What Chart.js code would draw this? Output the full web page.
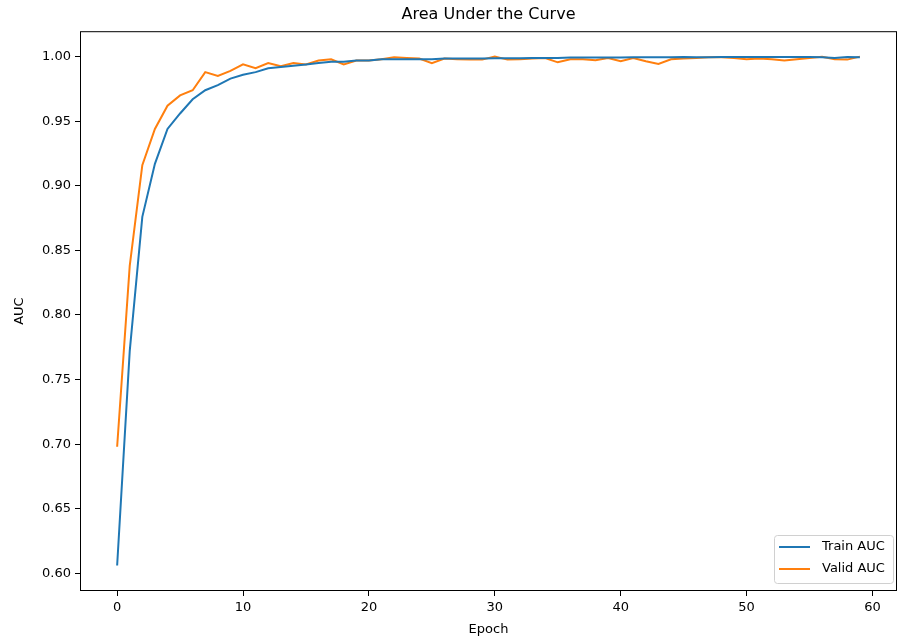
<!DOCTYPE html>
<html>
<head>
<meta charset="utf-8">
<script src="https://cdn.jsdelivr.net/npm/chart.js@4/dist/chart.umd.min.js"></script>
<style>
  html, body { margin: 0; padding: 0; background: #fff; }
  #wrap { width: 899px; height: 641px; }
</style>
</head>
<body>
<div id="wrap"><canvas id="myChart" width="899" height="641"></canvas></div>
<script>
const epochs = [0, 1, 2, 3, 4, 5, 6, 7, 8, 9, 10, 11, 12, 13, 14, 15, 16, 17, 18, 19,
  20, 21, 22, 23, 24, 25, 26, 27, 28, 29, 30, 31, 32, 33, 34, 35, 36, 37, 38, 39,
  40, 41, 42, 43, 44, 45, 46, 47, 48, 49, 50, 51, 52, 53, 54, 55, 56, 57, 58, 59];

const trainAuc = [0.606, 0.772, 0.876, 0.917, 0.944, 0.956, 0.967, 0.974, 0.978, 0.983,
  0.986, 0.988, 0.991, 0.992, 0.993, 0.994, 0.995, 0.996, 0.996, 0.997,
  0.997, 0.998, 0.998, 0.998, 0.998, 0.998, 0.9985, 0.9985, 0.9985, 0.9985,
  0.9988, 0.9988, 0.9988, 0.999, 0.999, 0.999, 0.9993, 0.9993, 0.9993, 0.9993,
  0.9993, 0.9995, 0.9995, 0.9995, 0.9995, 0.9998, 0.9996, 0.9996, 0.9998, 0.9998,
  0.9998, 0.9997, 0.9997, 0.9997, 0.9998, 0.9998, 0.9995, 0.999, 0.9998, 0.9995];

const validAuc = [0.698, 0.838, 0.916, 0.944, 0.962, 0.970, 0.974, 0.988, 0.985, 0.989,
  0.994, 0.991, 0.995, 0.9925, 0.995, 0.994, 0.997, 0.998, 0.994, 0.997,
  0.997, 0.998, 0.9995, 0.999, 0.9985, 0.995, 0.9985, 0.998, 0.9977, 0.9977,
  1.000, 0.9977, 0.998, 0.9985, 0.999, 0.9956, 0.998, 0.998, 0.9972, 0.999,
  0.9964, 0.999, 0.9964, 0.9943, 0.998, 0.9985, 0.999, 0.9995, 0.9995, 0.999,
  0.998, 0.9985, 0.998, 0.997, 0.998, 0.999, 1.000, 0.998, 0.9977, 1.000];

const xTicks = [0, 10, 20, 30, 40, 50, 60];
const yTicks = [0.60, 0.65, 0.70, 0.75, 0.80, 0.85, 0.90, 0.95, 1.00];

const FONT = 'DejaVu Sans';

function toPoints(values) {
  return epochs.map((e, i) => ({ x: e, y: values[i] }));
}

// box around the plot area plus a matplotlib-style legend in the lower right
const frameAndLegend = {
  id: 'frameAndLegend',
  afterDraw(chart) {
    const { ctx, chartArea: a } = chart;
    ctx.save();
    ctx.strokeStyle = '#000';
    ctx.lineWidth = 1;
    ctx.strokeRect(a.left + 0.5, a.top + 0.5, a.right - a.left - 1, a.bottom - a.top - 1);

    const w = 119, h = 48;
    const x = a.right - 4 - w, y = a.bottom - 8 - h;
    ctx.fillStyle = 'rgba(255,255,255,0.8)';
    ctx.strokeStyle = '#d0d0d0';
    ctx.beginPath();
    ctx.roundRect(x + 0.5, y + 0.5, w, h, 3);
    ctx.fill();
    ctx.stroke();

    ctx.font = '13px ' + FONT;
    ctx.textBaseline = 'middle';
    ctx.textAlign = 'left';
    chart.data.datasets.forEach((ds, i) => {
      const ly = y + 12 + i * 22;
      ctx.strokeStyle = ds.borderColor;
      ctx.lineWidth = 2;
      ctx.beginPath();
      ctx.moveTo(x + 5, ly);
      ctx.lineTo(x + 36, ly);
      ctx.stroke();
      ctx.fillStyle = '#000';
      ctx.fillText(ds.label, x + 48, ly);
    });
    ctx.restore();
  }
};

const ctx = document.getElementById('myChart').getContext('2d');
const chart = new Chart(ctx, {
  type: 'line',
  data: {
    datasets: [
      {
        label: 'Train AUC',
        data: toPoints(trainAuc),
        borderColor: '#1f77b4',
        backgroundColor: '#1f77b4',
        borderWidth: 2,
        pointRadius: 0,
        tension: 0,
        fill: false,
      },
      {
        label: 'Valid AUC',
        data: toPoints(validAuc),
        borderColor: '#ff7f0e',
        backgroundColor: '#ff7f0e',
        borderWidth: 2,
        pointRadius: 0,
        tension: 0,
        fill: false,
      },
    ],
  },
  options: {
    responsive: false,
    animation: false,
    events: [],
    layout: { padding: { left: 0, right: 2, top: 0, bottom: 0 } },
    scales: {
      x: {
        type: 'linear',
        min: -2.95,
        max: 61.95,
        afterBuildTicks(scale) { scale.ticks = xTicks.map(v => ({ value: v })); },
        afterFit(scale) { scale.height = 50; },
        grid: { display: true, drawOnChartArea: false, drawTicks: true, tickLength: 5, color: '#000' },
        border: { display: false },
        ticks: {
          color: '#000',
          font: { family: FONT, size: 13 },
          padding: 4,
          maxRotation: 0,
          callback: v => String(v),
        },
        title: {
          display: true,
          text: 'Epoch',
          color: '#000',
          font: { family: FONT, size: 13 },
          padding: { top: 2, bottom: 4 },
        },
      },
      y: {
        type: 'linear',
        min: 0.5863,
        max: 1.0197,
        afterBuildTicks(scale) { scale.ticks = yTicks.map(v => ({ value: v })); },
        afterFit(scale) { scale.width = 80; },
        grid: { display: true, drawOnChartArea: false, drawTicks: true, tickLength: 5, color: '#000' },
        border: { display: false },
        ticks: {
          color: '#000',
          font: { family: FONT, size: 13 },
          padding: 4,
          callback: v => v.toFixed(2),
        },
        title: {
          display: true,
          text: 'AUC',
          color: '#000',
          font: { family: FONT, size: 13 },
          padding: { top: 12, bottom: 0 },
        },
      },
    },
    plugins: {
      legend: { display: false },
      tooltip: { enabled: false },
      title: {
        display: true,
        fullSize: false,
        text: 'Area Under the Curve',
        color: '#000',
        font: { family: FONT, size: 16, weight: 'normal' },
        padding: { top: 5, bottom: 7 },
      },
    },
  },
  plugins: [frameAndLegend],
});
</script>
</body>
</html>
